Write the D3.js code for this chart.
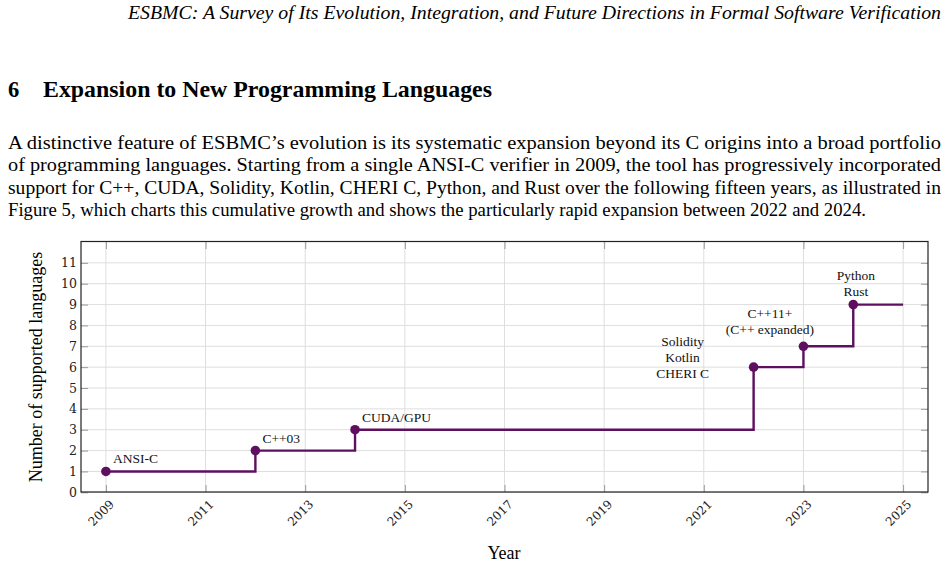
<!DOCTYPE html>
<html>
<head>
<meta charset="utf-8">
<script src="https://cdn.jsdelivr.net/npm/d3@7"></script>
<style>
  body { margin: 0; background: #fff; }
  text { font-family: "Liberation Serif", "Times New Roman", serif; }
  text.tick-label { font-family: "DejaVu Serif", serif; }
</style>
</head>
<body>
<script>
// data
const years = [2009, 2012, 2014, 2022, 2023, 2024];
const counts = [1, 2, 3, 6, 7, 9];
const endYear = 2025;
const labels = [
    ["ANSI-C"],
    ["C++03"],
    ["CUDA/GPU"],
    ["Solidity", "Kotlin", "CHERI C"],
    ["C++11+", "(C++ expanded)"],
    ["Python", "Rust"]
];
const xTicks = [2009, 2011, 2013, 2015, 2017, 2019, 2021, 2023, 2025];
const yTicks = [0, 1, 2, 3, 4, 5, 6, 7, 8, 9, 10, 11];

const paragraph = [
    "A distinctive feature of ESBMC\u2019s evolution is its systematic expansion beyond its C origins into a broad portfolio",
    "of programming languages. Starting from a single ANSI-C verifier in 2009, the tool has progressively incorporated",
    "support for C++, CUDA, Solidity, Kotlin, CHERI C, Python, and Rust over the following fifteen years, as illustrated in",
    "Figure 5, which charts this cumulative growth and shows the particularly rapid expansion between 2022 and 2024."
];
const lineWidths = [933, 933, 933, 858];

const width = 949,
    height = 567;

var svg = d3.select("body").append("svg")
    .attr("width", width)
    .attr("height", height);

// page header and text
svg.append("text")
    .attr("x", 941).attr("y", 19)
    .attr("text-anchor", "end")
    .attr("font-style", "italic")
    .attr("font-size", 19)
    .attr("textLength", 813)
    .attr("lengthAdjust", "spacingAndGlyphs")
    .text("ESBMC: A Survey of Its Evolution, Integration, and Future Directions in Formal Software Verification");

svg.append("text")
    .attr("x", 8).attr("y", 97)
    .attr("font-weight", "bold")
    .attr("font-size", 22.5)
    .text("6");

svg.append("text")
    .attr("x", 43).attr("y", 97)
    .attr("font-weight", "bold")
    .attr("font-size", 22.5)
    .attr("textLength", 449)
    .attr("lengthAdjust", "spacingAndGlyphs")
    .text("Expansion to New Programming Languages");

svg.selectAll(".para")
    .data(paragraph)
    .enter().append("text")
    .attr("class", "para")
    .attr("x", 8)
    .attr("y", function(d, i) { return 149 + i * 22.4; })
    .attr("font-size", 19.5)
    .attr("textLength", function(d, i) { return lineWidths[i]; })
    .attr("lengthAdjust", "spacingAndGlyphs")
    .text(function(d) { return d; });

// chart
var x = d3.scaleLinear().domain([2008.5, 2025.5]).range([81, 928]);
var y = d3.scaleLinear().domain([0, 12]).range([492.3, 242]);

var plot = svg.append("g");

// grid
plot.selectAll(".hgrid")
    .data(yTicks)
    .enter().append("line")
    .attr("x1", 81).attr("x2", 928)
    .attr("y1", function(d) { return y(d); })
    .attr("y2", function(d) { return y(d); })
    .attr("stroke", "#dedede")
    .attr("stroke-width", 1);

plot.selectAll(".vgrid")
    .data(xTicks)
    .enter().append("line")
    .attr("y1", 242).attr("y2", 492)
    .attr("x1", function(d) { return x(d); })
    .attr("x2", function(d) { return x(d); })
    .attr("stroke", "#dedede")
    .attr("stroke-width", 1);

// axes with inward ticks on all four sides
var tickLen = 7;
plot.append("g")
    .attr("transform", "translate(0,492)")
    .call(d3.axisTop(x).tickValues(xTicks).tickSize(tickLen).tickFormat(""))
    .call(function(g) { g.select(".domain").remove(); });
plot.append("g")
    .attr("transform", "translate(0,242)")
    .call(d3.axisBottom(x).tickValues(xTicks).tickSize(tickLen).tickFormat(""))
    .call(function(g) { g.select(".domain").remove(); });
plot.append("g")
    .attr("transform", "translate(81,0)")
    .call(d3.axisRight(y).tickValues(yTicks).tickSize(tickLen).tickFormat(""))
    .call(function(g) { g.select(".domain").remove(); });
plot.append("g")
    .attr("transform", "translate(928,0)")
    .call(d3.axisLeft(y).tickValues(yTicks).tickSize(tickLen).tickFormat(""))
    .call(function(g) { g.select(".domain").remove(); });
plot.selectAll(".tick line").attr("stroke", "#9a9a9a");

plot.append("rect")
    .attr("x", 81).attr("y", 241.5)
    .attr("width", 847).attr("height", 250.5)
    .attr("fill", "none")
    .attr("stroke", "#222")
    .attr("stroke-width", 1.2);

// tick labels
plot.selectAll(".ylab")
    .data(yTicks)
    .enter().append("text")
    .attr("class", "tick-label")
    .attr("x", 77)
    .attr("y", function(d) { return y(d); })
    .attr("dy", "0.36em")
    .attr("text-anchor", "end")
    .attr("font-size", 12.5)
    .attr("fill", "#222")
    .text(function(d) { return d; });

plot.selectAll(".xlab")
    .data(xTicks)
    .enter().append("text")
    .attr("class", "tick-label")
    .attr("transform", function(d) { return "translate(" + (x(d) + 6) + ",502) rotate(-45)"; })
    .attr("dy", "0.36em")
    .attr("text-anchor", "end")
    .attr("font-size", 12)
    .attr("fill", "#222")
    .text(function(d) { return d; });

svg.append("text")
    .attr("x", 504).attr("y", 559)
    .attr("text-anchor", "middle")
    .attr("font-size", 18)
    .text("Year");

svg.append("text")
    .attr("transform", "translate(42,367) rotate(-90)")
    .attr("text-anchor", "middle")
    .attr("font-size", 18)
    .text("Number of supported languages");

// step line
var points = years.map(function(d, i) { return {year: d, count: counts[i]}; });
var linePoints = points.concat([{year: endYear, count: counts[counts.length - 1]}]);

var line = d3.line()
    .x(function(d) { return x(d.year); })
    .y(function(d) { return y(d.count); })
    .curve(d3.curveStepAfter);

plot.append("path")
    .datum(linePoints)
    .attr("d", line)
    .attr("fill", "none")
    .attr("stroke", "#5f0f5f")
    .attr("stroke-width", 2.4);

plot.selectAll(".pt")
    .data(points)
    .enter().append("circle")
    .attr("cx", function(d) { return x(d.year); })
    .attr("cy", function(d) { return y(d.count); })
    .attr("r", 4.8)
    .attr("fill", "#5f0f5f");

// annotations: offset of the text block from its point
var placement = [
    {dx: 7, dy: -8, anchor: "start"},
    {dx: 7, dy: -8, anchor: "start"},
    {dx: 7, dy: -8, anchor: "start"},
    {dx: -71, dy: -21, anchor: "middle"},
    {dx: -33.5, dy: -28.5, anchor: "middle"},
    {dx: 2.5, dy: -25, anchor: "middle"}
];

points.forEach(function(d, i) {
    var p = placement[i];
    var t = plot.append("text")
        .attr("x", x(d.year) + p.dx)
        .attr("y", y(d.count) + p.dy)
        .attr("text-anchor", p.anchor)
        .attr("font-size", 13.5)
        .attr("fill", "#111");
    labels[i].forEach(function(s, j) {
        t.append("tspan")
            .attr("x", x(d.year) + p.dx)
            .attr("dy", j == 0 ? 0 : 16)
            .text(s);
    });
});
</script>
</body>
</html>
